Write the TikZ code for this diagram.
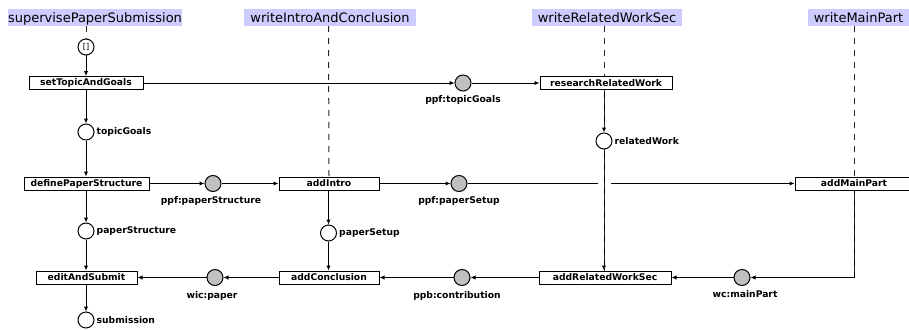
\documentclass[tikz,border=0pt]{standalone}
\usepackage{fontspec}
\setmainfont{DejaVu Sans}
\usetikzlibrary{arrows.meta}

\definecolor{lanebg}{RGB}{204,204,255}
\definecolor{placegray}{RGB}{192,192,192}

\pgfdeclarelayer{lanes}
\pgfsetlayers{lanes,main}

\tikzset{
  lanehead/.style={fill=lanebg, inner sep=0pt, minimum height=17pt, font=\fontsize{13}{15}\selectfont, text depth=0pt},
  lanestroke/.style={line width=1pt, dash pattern=on 6pt off 6pt, black!85},
  taskbox/.style={draw, line width=1pt, fill=white, minimum height=13pt, inner sep=0pt, font=\fontsize{9.2}{10}\selectfont\bfseries},
  place/.style={circle, draw, line width=1pt, fill=white, minimum size=16pt, inner sep=0pt},
  gplace/.style={place, fill=placegray},
  lbl/.style={font=\fontsize{9.2}{10}\selectfont\bfseries, inner sep=0pt},
  flow/.style={line width=1pt, -{Latex[length=5pt,width=4.5pt]}},
  plainflow/.style={line width=1pt},
}

\begin{document}
\begin{tikzpicture}[x=1pt, y=-1pt]
\useasboundingbox (0,0) rectangle (909,329);

% lane headers
\node[lanehead, minimum width=174pt] (h1) at (95,17.5) {supervisePaperSubmission};
\node[lanehead, minimum width=172pt] (h2) at (330,17.5) {writeIntroAndConclusion};
\node[lanehead, minimum width=150pt] (h3) at (607,17.5) {writeRelatedWorkSec};
\node[lanehead, minimum width=101pt] (h4) at (858.5,17.5) {writeMainPart};

% lane tops
\coordinate (l1) at (86,26);
\coordinate (l2) at (328.5,26);
\coordinate (l3) at (604,26);
\coordinate (l4) at (854,26);

% transitions
\node[taskbox, minimum width=114pt] (setTopic) at (86,83) {setTopicAndGoals};
\node[taskbox, minimum width=132pt] (research) at (606,83) {researchRelatedWork};
\node[taskbox, minimum width=125pt] (defStruct) at (86.5,183.5) {definePaperStructure};
\node[taskbox, minimum width=100pt] (addIntro) at (329,183.5) {addIntro};
\node[taskbox, minimum width=118pt] (addMain) at (854,183.5) {addMainPart};
\node[taskbox, minimum width=101pt] (editSubmit) at (86.5,277.5) {editAndSubmit};
\node[taskbox, minimum width=100pt] (addConcl) at (329,277.5) {addConclusion};
\node[taskbox, minimum width=132pt] (addRelated) at (605,277.5) {addRelatedWorkSec};

% places
\node[place, font=\fontsize{8}{9}\selectfont] (start) at (86,47) {[]};
\node[gplace] (ppfTopic) at (463,83) {};
\node[place] (topicGoals) at (86,132) {};
\node[place] (relatedWork) at (604,141) {};
\node[gplace] (ppfStruct) at (213,183.5) {};
\node[gplace] (ppfSetup) at (459,183.5) {};
\node[place] (paperStruct) at (86,231) {};
\node[place] (paperSetup) at (328.5,233) {};
\node[gplace] (wicPaper) at (215,277.5) {};
\node[gplace] (ppbContrib) at (462,277.5) {};
\node[gplace] (wcMain) at (742,277.5) {};
\node[place] (submission) at (86,320) {};

% place labels
\node[lbl, anchor=west] at ([xshift=2pt]topicGoals.east) {topicGoals};
\node[lbl, anchor=west] at ([xshift=2pt]relatedWork.east) {relatedWork};
\node[lbl, anchor=west] at ([xshift=2pt]paperStruct.east) {paperStructure};
\node[lbl, anchor=west] at ([xshift=2pt]paperSetup.east) {paperSetup};
\node[lbl, anchor=west] at ([xshift=2pt]submission.east) {submission};
\node[lbl, anchor=north] at ([yshift=-4pt]ppfTopic.south) {ppf:topicGoals};
\node[lbl, anchor=north] at ([yshift=-4pt,xshift=-2pt]ppfStruct.south) {ppf:paperStructure};
\node[lbl, anchor=north] at ([yshift=-4pt]ppfSetup.south) {ppf:paperSetup};
\node[lbl, anchor=north] at ([yshift=-5pt,xshift=-3pt]wicPaper.south) {wic:paper};
\node[lbl, anchor=north] at ([yshift=-5pt,xshift=-5pt]ppbContrib.south) {ppb:contribution};
\node[lbl, anchor=north] at ([yshift=-4pt,xshift=3pt]wcMain.south) {wc:mainPart};

% gap where the lane of writeRelatedWorkSec crosses
\coordinate (gapL) at (598,183.5);
\coordinate (gapR) at (611,183.5);

\begin{pgfonlayer}{lanes}
% flows
\draw[flow] (start) -- (setTopic);
\draw[flow] (setTopic) -- (ppfTopic);
\draw[flow] (ppfTopic) -- (research);
\draw[flow] (research.south -| relatedWork) -- (relatedWork);
\draw[flow] (setTopic) -- (topicGoals);
\draw[flow] (topicGoals) -- (defStruct.north -| topicGoals);
\draw[flow] (defStruct) -- (ppfStruct);
\draw[flow] (ppfStruct) -- (addIntro);
\draw[flow] (addIntro) -- (ppfSetup);
\draw[plainflow] (ppfSetup) -- (gapL);
\draw[flow] (gapR) -- (addMain);
\draw[flow] (addIntro.south -| paperSetup) -- (paperSetup);
\draw[flow] (paperSetup) -- (addConcl.north -| paperSetup);
\draw[flow] (defStruct.south -| paperStruct) -- (paperStruct);
\draw[flow] (paperStruct) -- (editSubmit.north -| paperStruct);
\draw[flow] (editSubmit.south -| submission) -- (submission);
\draw[flow] (relatedWork) -- (addRelated.north -| relatedWork);
\draw[flow] (addMain.south -| l4) |- (wcMain);
\draw[flow] (wcMain) -- (addRelated);
\draw[flow] (addRelated) -- (ppbContrib);
\draw[flow] (ppbContrib) -- (addConcl);
\draw[flow] (addConcl) -- (wicPaper);
\draw[flow] (wicPaper) -- (editSubmit);

% lane lines
\draw[lanestroke] (l1) -- (start.north);
\draw[lanestroke] (l2) -- (addIntro.north);
\draw[lanestroke] (l3) -- (l3 |- addRelated.north);
\draw[lanestroke] (l4) -- (l4 |- wcMain);
\end{pgfonlayer}
\end{tikzpicture}
\end{document}
